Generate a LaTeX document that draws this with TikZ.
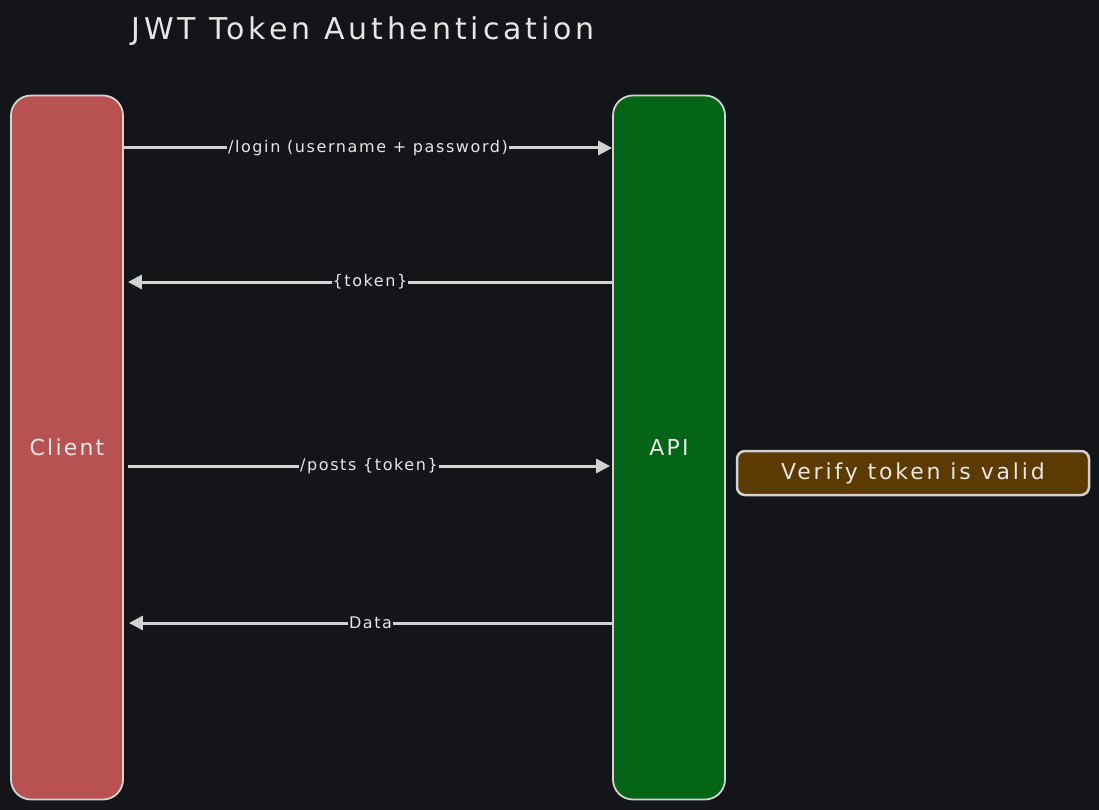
\documentclass[tikz,border=0pt]{standalone}
\usepackage{fontspec}
\setmainfont{DejaVu Sans}
\newfontfamily\wideA[LetterSpace=10]{DejaVu Sans}
\newfontfamily\wideB[LetterSpace=13]{DejaVu Sans}
\usetikzlibrary{arrows.meta}
\definecolor{bg}{HTML}{131519}
\definecolor{strk}{HTML}{D2D2D2}
\definecolor{txt}{HTML}{E6E6E6}
\definecolor{clientc}{HTML}{B85250}
\definecolor{apic}{HTML}{056516}
\definecolor{verc}{HTML}{5C3A00}
\tikzset{
  x=1pt, y=-1pt,
  lane/.style={draw=strk, line width=1.8pt, rounded corners=20pt, minimum width=112pt, minimum height=704pt, inner sep=0pt, text=txt, font=\wideA\fontsize{22}{26}\selectfont},
  arr/.style={draw=strk, line width=3pt, -{Triangle[length=14pt,width=14pt]}},
  lbl/.style={fill=bg, text=txt, inner sep=1pt, font=\wideA\fontsize{16}{19}\selectfont},
}
\begin{document}
\begin{tikzpicture}
\fill[bg] (0,0) rectangle (1099,810);
\useasboundingbox (0,0) rectangle (1099,810);
\node[font=\wideB\fontsize{30}{34}\selectfont, text=txt, anchor=west] (title) at (128,31) {JWT Token Authentication};
\node[lane, fill=clientc] (client) at (67,447.5) {Client};
\node[lane, fill=apic] (api) at (669,447.5) {API};
\node[draw=strk, line width=2.5pt, rounded corners=8pt, fill=verc, text=txt, minimum width=352pt, minimum height=44pt, font=\wideB\fontsize{22}{26}\selectfont] (verify) at (913,473) {Verify token is valid};
\draw[arr] (client.east |- 0,148) -- node[lbl] {/login (username + password)} (api.west |- 0,148);
\draw[arr] (api.west |- 0,282) -- node[lbl] {\{token\}} ([xshift=4pt]client.east |- 0,282);
\draw[arr] ([xshift=4pt]client.east |- 0,466) -- node[lbl] {/posts \{token\}} ([xshift=-2pt]api.west |- 0,466);
\draw[arr] (api.west |- 0,623) -- node[lbl] {Data} ([xshift=5pt]client.east |- 0,623);
\end{tikzpicture}
\end{document}
